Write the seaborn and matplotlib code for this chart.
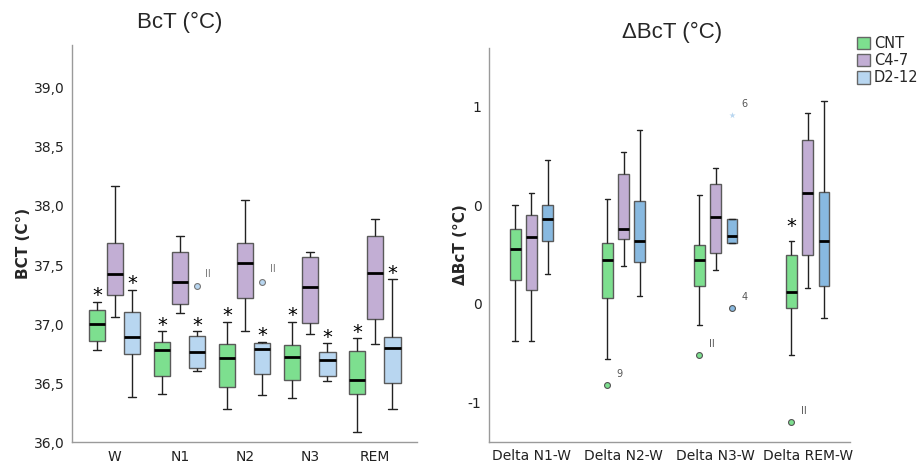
"""
Body core temperature (BcT) by sleep stage and its change from wake (ΔBcT),
per group: CNT, C4-7, D2-12. Boxes are drawn from five-number summaries.
"""

import matplotlib

matplotlib.use("Agg")
import matplotlib.pyplot as plt
import numpy as np
import pandas as pd
import seaborn as sns
from matplotlib.patches import Patch

# --- Data ---
groups = ["CNT", "C4-7", "D2-12"]

# left panel: BcT (°C), each entry = [whisker low, Q1, median, Q3, whisker high]
stages = ["W", "N1", "N2", "N3", "REM"]
bct_cnt = [
    [36.78, 36.86, 37.00, 37.12, 37.19],
    [36.41, 36.56, 36.78, 36.85, 36.94],
    [36.28, 36.47, 36.71, 36.83, 37.02],
    [36.37, 36.53, 36.72, 36.82, 37.02],
    [36.09, 36.41, 36.53, 36.77, 36.88],
]
bct_c47 = [
    [37.06, 37.25, 37.42, 37.69, 38.17],
    [37.09, 37.17, 37.36, 37.61, 37.75],
    [36.94, 37.22, 37.52, 37.69, 38.05],
    [36.92, 37.01, 37.31, 37.57, 37.61],
    [36.83, 37.04, 37.43, 37.75, 37.89],
]
bct_d212 = [
    [36.38, 36.75, 36.89, 37.10, 37.29],
    [36.60, 36.63, 36.76, 36.90, 36.94],
    [36.40, 36.58, 36.79, 36.84, 36.85],
    [36.52, 36.56, 36.70, 36.76, 36.84],
    [36.28, 36.50, 36.80, 36.89, 37.38],
]
# outliers: (stage, group, value, label)
bct_outliers = [("N1", "D2-12", 37.32, "II"), ("N2", "D2-12", 37.36, "II")]
# significance stars: (stage, group)
bct_stars = [(s, g) for s in stages for g in ["CNT", "D2-12"]]

# right panel: ΔBcT, same layout
deltas = ["Delta N1-W", "Delta N2-W", "Delta N3-W", "Delta REM-W"]
dbct_cnt = [
    [-0.19, 0.12, 0.28, 0.38, 0.50],
    [-0.28, 0.03, 0.22, 0.31, 0.53],
    [-0.11, 0.09, 0.22, 0.30, 0.55],
    [-0.26, -0.02, 0.06, 0.25, 0.32],
]
dbct_c47 = [
    [-0.19, 0.07, 0.34, 0.45, 0.56],
    [0.19, 0.33, 0.38, 0.66, 0.77],
    [0.17, 0.26, 0.44, 0.61, 0.69],
    [0.08, 0.25, 0.56, 0.83, 0.97],
]
dbct_d212 = [
    [0.15, 0.32, 0.43, 0.50, 0.73],
    [0.04, 0.21, 0.32, 0.52, 0.88],
    [0.31, 0.31, 0.345, 0.43, 0.43],
    [-0.07, 0.09, 0.32, 0.57, 1.03],
]
dbct_outliers = [
    ("Delta N2-W", "CNT", -0.41, "9", "o"),
    ("Delta N3-W", "CNT", -0.26, "II", "o"),
    ("Delta N3-W", "D2-12", 0.96, "6", "*"),
    ("Delta N3-W", "D2-12", -0.02, "4", "o"),
    ("Delta REM-W", "CNT", -0.60, "II", "o"),
]
dbct_stars = [("Delta REM-W", "CNT")]

left_yticks = [36.0, 36.5, 37.0, 37.5, 38.0, 38.5, 39.0]
left_yticklabels = ["36,0", "36,5", "37,0", "37,5", "38,0", "38,5", "39,0"]
right_yticks = [-0.5, 0.0, 0.5, 1.0]
right_yticklabels = ["-1", "0", "0", "1"]

pal_left = {"CNT": "#7ddf8f", "C4-7": "#c2aed4", "D2-12": "#b8d6f0"}
pal_right = {"CNT": "#7ddf8f", "C4-7": "#c2aed4", "D2-12": "#88b9e0"}


def to_long(cats, per_group):
    rows = []
    for g, summaries in zip(groups, per_group):
        for c, five in zip(cats, summaries):
            for v in five:
                rows.append({"cat": c, "group": g, "value": v})
    return pd.DataFrame(rows)


def xpos(cats, cat, group, width):
    n = len(groups)
    gi = groups.index(group)
    return cats.index(cat) - width / 2 + width / n * (gi + 0.5)


def draw_panel(ax, df, cats, pal, width, gap):
    sns.boxplot(
        data=df, x="cat", y="value", hue="group", order=cats, hue_order=groups,
        palette=pal, width=width, gap=gap, whis=np.inf, ax=ax,
        linecolor="#5a5a5a", linewidth=1.0, saturation=1,
        medianprops=dict(color="black", linewidth=2.0),
        whiskerprops=dict(color="#222222", linewidth=1.0),
        capprops=dict(color="#222222", linewidth=1.0),
        legend=False,
    )
    ax.set_xlabel("")
    sns.despine(ax=ax)
    for sp in ["left", "bottom"]:
        ax.spines[sp].set_color("#9a9a9a")
        ax.spines[sp].set_linewidth(1.0)
    ax.tick_params(axis="both", length=4, width=1, color="#555555",
                   labelsize=10, labelcolor="#222222", pad=1.5)


sns.set_theme(style="white")
plt.rcParams["font.family"] = ["DejaVu Sans"]

fig = plt.figure(figsize=(9.21, 4.63), dpi=100)
ax1 = fig.add_axes([0.078, 0.045, 0.375, 0.857])
ax2 = fig.add_axes([0.531, 0.046, 0.392, 0.851])

# --- Left panel ---
w1, g1 = 0.81, 0.08
draw_panel(ax1, to_long(stages, [bct_cnt, bct_c47, bct_d212]), stages, pal_left, w1, g1)
ax1.set_ylim(36.0, 39.36)
ax1.set_xlim(-0.66, len(stages) - 1 + 0.65)
ax1.set_yticks(left_yticks, left_yticklabels)
ax1.set_ylabel("BCT (C°)", fontsize=11, fontweight="bold", labelpad=2)

summ1 = {"CNT": bct_cnt, "C4-7": bct_c47, "D2-12": bct_d212}
for s, g in bct_stars:
    hi = summ1[g][stages.index(s)][4]
    ax1.text(xpos(stages, s, g, w1), hi + 0.05, "*", ha="center", va="center",
             fontsize=14, color="black")
for s, g, v, lab in bct_outliers:
    x = xpos(stages, s, g, w1)
    ax1.scatter([x], [v], s=18, color=pal_left[g], edgecolors="#777777", linewidths=0.8, zorder=5)
    ax1.text(x + 0.12, v + 0.06, lab, fontsize=7, color="#777777", ha="left", va="bottom")

# --- Right panel ---
w2, g2 = 0.53, 0.34
draw_panel(ax2, to_long(deltas, [dbct_cnt, dbct_c47, dbct_d212]), deltas, pal_right, w2, g2)
ax2.set_ylim(-0.70, 1.30)
ax2.set_xlim(-0.46, len(deltas) - 1 + 0.46)
ax2.set_yticks(right_yticks, right_yticklabels)
ax2.set_ylabel("ΔBcT (°C)", fontsize=11, fontweight="bold", labelpad=0)

summ2 = {"CNT": dbct_cnt, "C4-7": dbct_c47, "D2-12": dbct_d212}
for s, g in dbct_stars:
    hi = summ2[g][deltas.index(s)][4]
    ax2.text(xpos(deltas, s, g, w2), hi + 0.07, "*", ha="center", va="center",
             fontsize=14, color="black")
for s, g, v, lab, mk in dbct_outliers:
    x = xpos(deltas, s, g, w2)
    if mk == "*":
        ax2.scatter([x], [v], s=22, marker="*", color=pal_left[g], linewidths=0, zorder=5)
    else:
        ax2.scatter([x], [v], s=18, color=pal_right[g], edgecolors="#555555", linewidths=0.8, zorder=5)
    ax2.text(x + 0.1, v + 0.03, lab, fontsize=7, color="#555555", ha="left", va="bottom")

# --- Titles ---
fig.text(180 / 921, 1 - 22 / 463, "BcT (°C)", ha="center", va="center",
         fontsize=16, family=["Liberation Sans", "DejaVu Sans"])
fig.text(672 / 921, 1 - 32 / 463, "ΔBcT (°C)", ha="center", va="center",
         fontsize=16, family=["Liberation Sans", "DejaVu Sans"])

# --- Legend ---
handles = [Patch(facecolor=pal_left[g], edgecolor="#666666", linewidth=1.0) for g in groups]
fig.legend(handles, groups, loc="upper left", bbox_to_anchor=(857 / 921, 1 - 36 / 463),
           frameon=False, fontsize=10.5, handlelength=0.9, handleheight=0.95,
           handletextpad=0.25, labelspacing=0.15, borderaxespad=0, borderpad=0)

fig.savefig("out.png", dpi=100)
plt.close(fig)
